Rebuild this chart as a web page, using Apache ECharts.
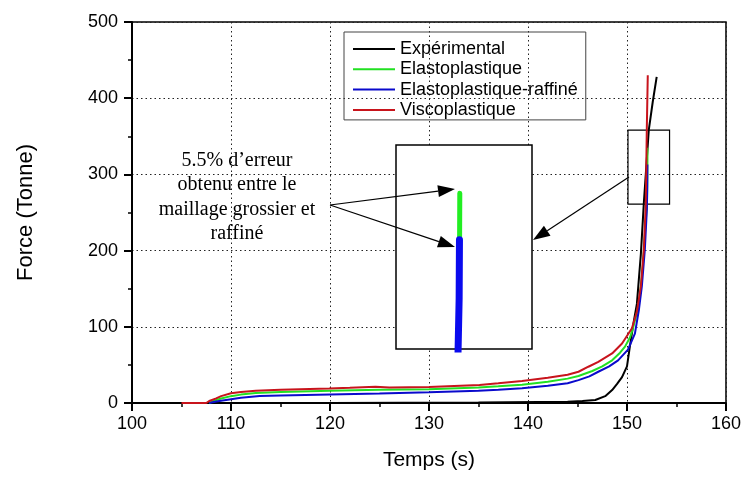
<!DOCTYPE html>
<html>
<head>
<meta charset="utf-8">
<script src="https://cdn.jsdelivr.net/npm/echarts@6/dist/echarts.min.js"></script>
<style>
  html, body { margin: 0; padding: 0; background: #fff; }
  #main { width: 744px; height: 478px; }
</style>
</head>
<body>
<div id="main"></div>
<script>
// data
var expT = [108, 120, 135, 144, 145.5, 146.8, 147.8, 148.5, 149.0, 149.5, 150.0, 150.3, 150.7, 151.0, 151.4, 151.7, 152.2, 152.6, 153.0];
var expF = [0, 0, 0.5, 1.5, 2.5, 4, 9, 17, 25, 34, 48, 75, 108, 130, 195, 262, 358, 395, 428];

var elastoT = [107.8, 108.3, 109, 110, 111, 112.5, 115, 120, 125, 130, 135, 137, 139.4, 142, 144, 145.1, 146.5, 147.5, 148.5, 149.3, 149.8, 150.3, 150.6, 151.0, 151.3, 151.6, 151.85, 152.02, 152.06, 152.07];
var elastoF = [0, 3, 6, 9, 11, 13, 14.5, 16, 17.5, 18, 20.5, 22, 24, 28, 32, 35.5, 42, 48, 56, 66, 74, 86, 98, 118, 140, 180, 230, 262, 300, 335];

var raffT = [107.8, 108.5, 109.5, 110, 111, 112.9, 115, 120, 125, 130, 135, 137, 139.4, 142, 144, 145.1, 146.2, 147.1, 148.2, 149.1, 150.1, 150.8, 151.2, 151.5, 151.8, 152.01, 152.05, 152.06];
var raffF = [0, 2, 4, 5, 7, 9.2, 10, 11.3, 12.5, 14, 16.2, 17.5, 19.3, 22.5, 26, 30, 35, 41, 48, 56, 70, 91, 122, 153, 201, 255, 285, 313];

var viscoT = [105, 107.5, 107.8, 108.5, 109, 110, 111, 112.5, 115, 119.9, 122, 124.6, 126, 130, 135.1, 137, 139.4, 142, 144, 145.1, 146.1, 147.1, 148.5, 149.5, 150.5, 151.0, 151.4, 151.7, 151.9, 152.0, 152.1];
var viscoF = [0, 0, 2.6, 6, 9, 12.7, 14.5, 16, 17.5, 19, 20, 21.4, 20.5, 21, 23.6, 25.8, 28.9, 33, 37, 41, 47.6, 54, 65, 78, 98, 120, 153, 201, 262, 358, 430];

var names = ['Expérimental', 'Elastoplastique', 'Elastoplastique-raffiné', 'Viscoplastique'];
var colors = ['#000000', '#22e022', '#0a0acc', '#c8141c'];
var xTicks = [100, 160, 10];
var yTicks = [0, 500, 100];
// zoomed window [t0, f0, t1, f1]
var zoomBox = [150.1, 261, 154.3, 358];

function pairs(t, f) {
  return t.map(function (v, i) { return [v, f[i]]; });
}

var sansFont = 'Liberation Sans';

function arrow(x1, y1, x2, y2) {
  var dx = x2 - x1, dy = y2 - y1;
  var len = Math.sqrt(dx * dx + dy * dy);
  var ux = dx / len, uy = dy / len;
  var bx = x2 - ux * 17, by = y2 - uy * 17;
  var px = -uy * 6, py = ux * 6;
  return [
    { type: 'line', z: 100, shape: { x1: x1, y1: y1, x2: bx, y2: by }, style: { stroke: '#000', lineWidth: 1.2 } },
    { type: 'polygon', z: 100, shape: { points: [[x2, y2], [bx + px, by + py], [bx - px, by - py]] }, style: { fill: '#000' } }
  ];
}

var arrows = [[330, 205, 455, 189], [330, 205, 455, 247], [629, 177, 533, 240]];
var graphics = [];
arrows.forEach(function (a) { graphics = graphics.concat(arrow(a[0], a[1], a[2], a[3])); });
graphics.push({
  type: 'text', z: 100,
  style: {
    text: '5.5% d\u2019erreur\nobtenu entre le\nmaillage grossier et\nraffiné',
    x: 237, y: 148, textAlign: 'center',
    font: '20px "Liberation Serif"', lineHeight: 24.5, fill: '#000'
  }
});

var myChart = echarts.init(document.getElementById('main'));

var option = {
  animation: false,
  color: colors,
  grid: [
    { left: 132, right: 15, top: 22, bottom: 75, show: true, borderColor: '#000', borderWidth: 1.5 },
    { left: 396, top: 145, width: 136, height: 204, show: true, z: 1,
      backgroundColor: '#fff', borderColor: '#000', borderWidth: 1.5 }
  ],
  legend: {
    data: names,
    orient: 'vertical',
    left: 344, top: 32,
    itemWidth: 42, itemHeight: 2, itemGap: 2.3,
    icon: 'rect',
    borderColor: '#444', borderWidth: 1,
    padding: [8, 8, 1, 9],
    textStyle: { fontFamily: sansFont, fontSize: 18, color: '#000', lineHeight: 18 }
  },
  xAxis: [{
    type: 'value', min: xTicks[0], max: xTicks[1], interval: xTicks[2],
    name: 'Temps (s)', nameLocation: 'middle', nameGap: 47,
    nameTextStyle: { fontFamily: sansFont, fontSize: 21, color: '#000' },
    axisLine: { lineStyle: { color: '#000', width: 2 } },
    axisTick: { length: 8, lineStyle: { color: '#000', width: 2 } },
    minorTick: { show: true, splitNumber: 2, length: 4, lineStyle: { color: '#000', width: 1.5 } },
    axisLabel: { fontFamily: sansFont, fontSize: 18, color: '#000', margin: 12 },
    splitLine: { lineStyle: { type: [1.5, 3], color: '#222', width: 1 } }
  }, {
    gridIndex: 1, type: 'value', min: zoomBox[0], max: zoomBox[2], show: false
  }],
  yAxis: [{
    type: 'value', min: yTicks[0], max: yTicks[1], interval: yTicks[2],
    name: 'Force (Tonne)', nameLocation: 'middle', nameGap: 95,
    nameTextStyle: { fontFamily: sansFont, fontSize: 22, color: '#000' },
    axisLine: { show: true, lineStyle: { color: '#000', width: 2 } },
    axisTick: { show: true, length: 8, lineStyle: { color: '#000', width: 2 } },
    minorTick: { show: true, splitNumber: 2, length: 4, lineStyle: { color: '#000', width: 1.5 } },
    axisLabel: { fontFamily: sansFont, fontSize: 18, color: '#000', margin: 14 },
    splitLine: { lineStyle: { type: [1.5, 3], color: '#222', width: 1 } }
  }, {
    gridIndex: 1, type: 'value', min: zoomBox[1], max: zoomBox[3], show: false
  }],
  series: [
    { name: names[0], type: 'line', showSymbol: false, data: pairs(expT, expF),
      lineStyle: { width: 2, color: colors[0] },
      markArea: {
        silent: true,
        itemStyle: { color: 'rgba(0,0,0,0)', borderColor: '#000', borderWidth: 1.2 },
        data: [[{ coord: [zoomBox[0], zoomBox[1]] }, { coord: [zoomBox[2], zoomBox[3]] }]]
      } },
    { name: names[1], type: 'line', showSymbol: false, data: pairs(elastoT, elastoF),
      lineStyle: { width: 2, color: colors[1] } },
    { name: names[2], type: 'line', showSymbol: false, data: pairs(raffT, raffF),
      lineStyle: { width: 2, color: colors[2] } },
    { name: names[3], type: 'line', showSymbol: false, data: pairs(viscoT, viscoF),
      lineStyle: { width: 2, color: colors[3] } },
    // zoomed inset
    { type: 'line', xAxisIndex: 1, yAxisIndex: 1, showSymbol: false, z: 3,
      data: pairs(elastoT, elastoF), lineStyle: { width: 5, color: '#22ee22', cap: 'round' } },
    { type: 'line', xAxisIndex: 1, yAxisIndex: 1, showSymbol: false, z: 4,
      data: pairs(raffT, raffF), lineStyle: { width: 7, color: '#0a0aee', cap: 'round' } }
  ],
  graphic: graphics
};

myChart.setOption(option);
</script>
</body>
</html>
